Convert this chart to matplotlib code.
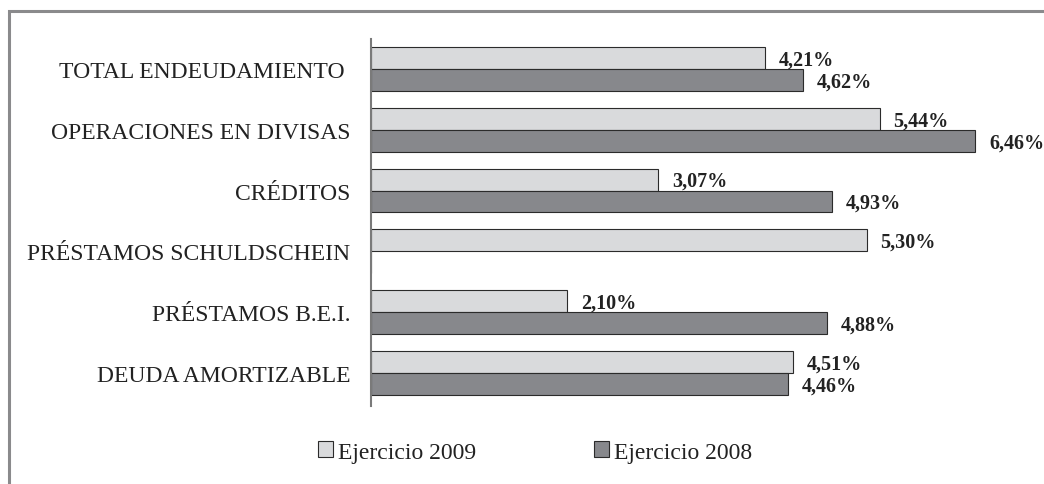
import numpy as np
import matplotlib
matplotlib.use('Agg')
import matplotlib.pyplot as plt
from matplotlib.lines import Line2D

plt.rcParams['font.family'] = ['Liberation Serif', 'DejaVu Serif']

categorias = ['DEUDA AMORTIZABLE', 'PRÉSTAMOS B.E.I.', 'PRÉSTAMOS SCHULDSCHEIN',
              'CRÉDITOS', 'OPERACIONES EN DIVISAS', 'TOTAL ENDEUDAMIENTO ']
ej_2009 = [4.51, 2.10, 5.30, 3.07, 5.44, 4.21]
ej_2008 = [4.46, 4.88, 0.0, 4.93, 6.46, 4.62]
etiquetas_2009 = ['4,51%', '2,10%', '5,30%', '3,07%', '5,44%', '4,21%']
etiquetas_2008 = ['4,46%', '4,88%', '', '4,93%', '6,46%', '4,62%']

W, H = 1044, 485
fig = plt.figure(figsize=(W / 100, H / 100), dpi=100)
ax = fig.add_axes([371 / W, 1 - 407 / H, (1000 - 371) / W, (407 - 40) / H])

y = np.arange(len(categorias))
h = 0.36
c09 = '#d9dadc'
c08 = '#87888c'
b09 = ax.barh(y + h / 2, ej_2009, height=h, color=c09, edgecolor='#2b2b2b',
              linewidth=0.8, label='Ejercicio 2009')
b08 = ax.barh(y - h / 2, ej_2008, height=h, color=c08, edgecolor='#2b2b2b',
              linewidth=0.8, label='Ejercicio 2008')

for yi, v, t in zip(y, ej_2009, etiquetas_2009):
    ax.annotate(t, (v, yi + h / 2), xytext=(10, -1), textcoords='offset points',
                va='center', ha='left', fontsize=14.5, fontweight='bold', color='#222222')
for yi, v, t in zip(y, ej_2008, etiquetas_2008):
    if t:
        ax.annotate(t, (v, yi - h / 2), xytext=(10, -1), textcoords='offset points',
                    va='center', ha='left', fontsize=14.5, fontweight='bold', color='#222222')

ax.set_xlim(0, (1000 - 371) / 93.5)
ax.set_ylim(-0.543, 5.493)
ax.set_yticks(y)
ax.set_yticklabels(categorias, fontsize=17, color='#222222')
ax.tick_params(axis='y', length=0, pad=15)
ax.set_xticks([])
for s in ['top', 'right', 'bottom']:
    ax.spines[s].set_visible(False)
ax.spines['left'].set_color('#7a7a7a')
ax.spines['left'].set_linewidth(1.5)

fig.legend(handles=[b09, b08], loc='center', bbox_to_anchor=(535 / W, 1 - 453 / H),
           ncol=2, frameon=False, fontsize=17, handlelength=0.65, handleheight=0.65,
           handletextpad=0.2, columnspacing=5.0, labelcolor='#222222')

# marco gris superior e izquierdo
fig.add_artist(Line2D([8.5 / W, 8.5 / W, 1], [0, 1 - 12 / H, 1 - 12 / H],
                      transform=fig.transFigure, color='#8a8a8c', linewidth=2.2,
                      solid_joinstyle='miter'))

fig.savefig('out.png', dpi=100)
